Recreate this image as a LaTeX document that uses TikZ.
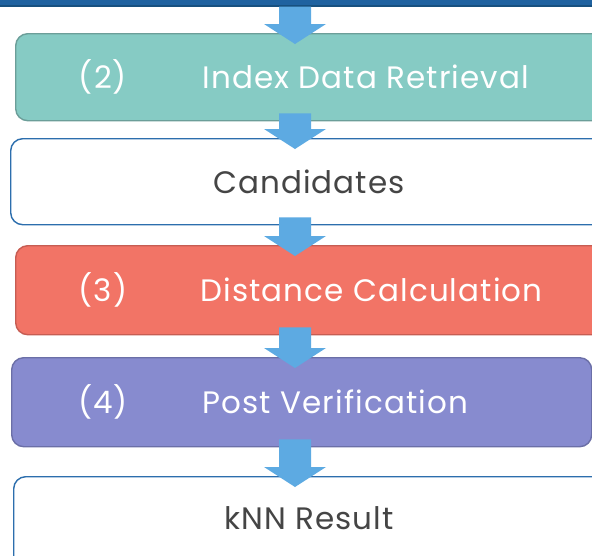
\documentclass[tikz,border=0pt]{standalone}
\usepackage{fontspec}
\setmainfont{Poppins}[LetterSpace=3.5]
\usetikzlibrary{calc}

\definecolor{barblue}{HTML}{1F62A0}
\definecolor{baredge}{HTML}{17507F}
\definecolor{tealfill}{HTML}{86CBC4}
\definecolor{tealedge}{HTML}{6C9E99}
\definecolor{redfill}{HTML}{F27466}
\definecolor{rededge}{HTML}{C65D53}
\definecolor{purplefill}{HTML}{878BCF}
\definecolor{purpleedge}{HTML}{6B6FA7}
\definecolor{outlineblue}{HTML}{2C6EAD}
\definecolor{arrowblue}{HTML}{5DAAE2}
\definecolor{darktext}{HTML}{454545}

% block arrow from the bottom of one box into the top of the next
\newcommand\flowarrow[3][8]{%
  \fill[arrowblue] let \p1=(#2.south), \p2=(#3.north) in
    (279pt,{\y1+#1pt}) -- (311pt,{\y1+#1pt}) -- (311pt,{\y2+9pt})
    -- (326pt,{\y2+9pt}) -- (295pt,{\y2-11pt}) -- (264pt,{\y2+9pt})
    -- (279pt,{\y2+9pt}) -- cycle;}

\begin{document}
\begin{tikzpicture}[x=1pt,y=-1pt,
  stagebox/.style={draw, line width=1.4pt, rounded corners=12pt,
    anchor=north west, inner sep=0pt},
  whitebox/.style={stagebox, draw=outlineblue, fill=white, line width=1.4pt},
  numtext/.style={text=white, font=\fontsize{31}{36}\selectfont},
  steptext/.style={text=white, anchor=west, font=\fontsize{31}{36}\selectfont},
  plaintext/.style={text=darktext, font=\fontsize{31}{36}\selectfont}]
\useasboundingbox (0,0) rectangle (592,555);
\clip (0,0) rectangle (592,555);

% query box above, only its lower edge shows
\node[fill=barblue, draw=baredge, line width=1.2pt, anchor=south west,
  minimum width=604pt, minimum height=30pt, inner sep=0pt] (query) at (-6,6.5) {};

% stages
\node[stagebox, fill=tealfill, draw=tealedge, minimum width=600pt,
  minimum height=87pt] (retrieval) at (15,33) {};
\node[whitebox, minimum width=600pt, minimum height=86pt] (cand) at (10,138) {};
\node[stagebox, fill=redfill, draw=rededge, minimum width=600pt,
  minimum height=89pt] (dist) at (15,245) {};
\node[stagebox, fill=purplefill, draw=purpleedge, minimum width=580pt,
  minimum height=89pt] (post) at (11,357) {};
\node[whitebox, minimum width=600pt, minimum height=110pt] (knn) at (13,476) {};

% labels
\node[numtext] (n2) at (103,77) {(2)};
\node[steptext] (t2) at (199,77) {Index Data Retrieval};
\node[plaintext] (t5) at (309,182) {Candidates};
\node[numtext] (n3) at (103,290) {(3)};
\node[steptext] (t3) at (197,290) {Distance Calculation};
\node[numtext] (n4) at (103,402) {(4)};
\node[steptext] (t4) at (199,402) {Post Verification};
\node[plaintext] (t6) at (309,518) {kNN Result};

% connectors
\flowarrow[0]{query}{retrieval}
\flowarrow{retrieval}{cand}
\flowarrow{cand}{dist}
\flowarrow{dist}{post}
\flowarrow{post}{knn}
\end{tikzpicture}
\end{document}
